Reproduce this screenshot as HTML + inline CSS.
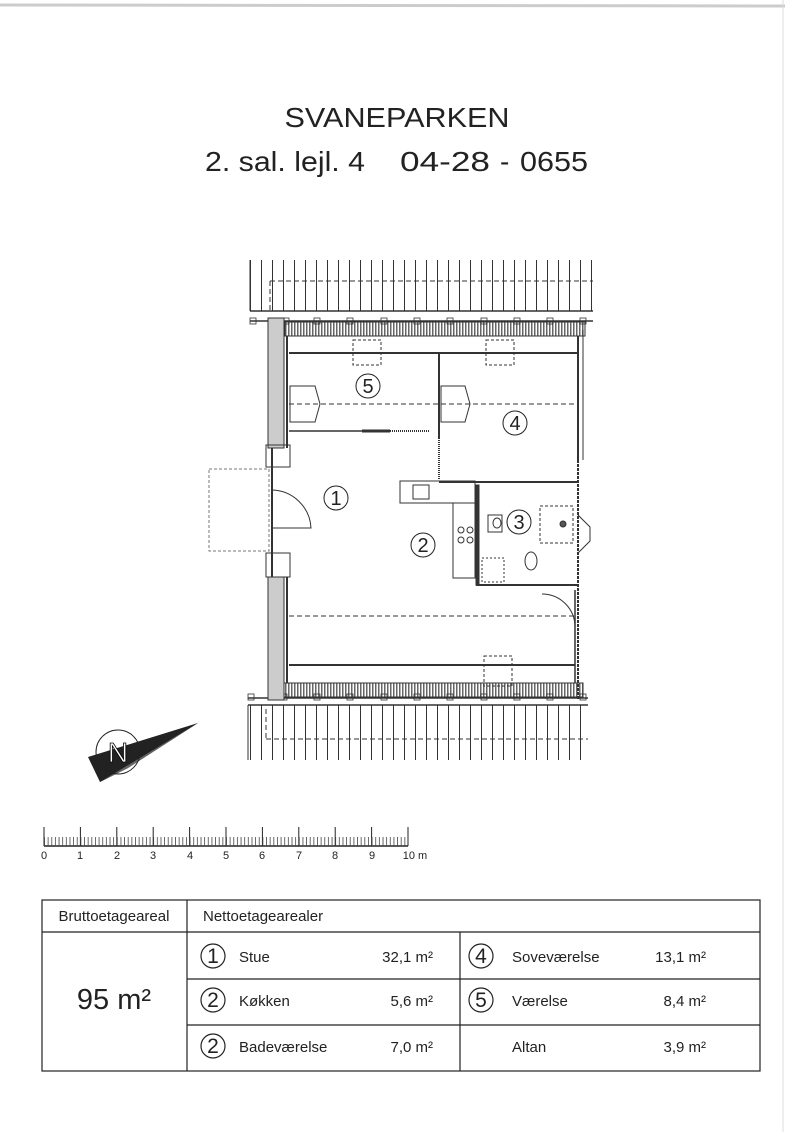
<!DOCTYPE html>
<html><head><meta charset="utf-8"><style>
body{margin:0;background:#fff;}
svg{display:block;font-family:"Liberation Sans",Arial,sans-serif;}
</style></head><body>
<svg width="800" height="1132" viewBox="0 0 800 1132" xmlns="http://www.w3.org/2000/svg">
<defs>
<pattern id="roof" x="250" y="0" width="11" height="10" patternUnits="userSpaceOnUse"><line x1="0.5" y1="0" x2="0.5" y2="10" stroke="#333" stroke-width="1"/></pattern>
<pattern id="hatch" x="0" y="0" width="3" height="3" patternUnits="userSpaceOnUse"><rect width="3" height="3" fill="#fff"/><rect width="1.5" height="3" fill="#666"/></pattern>
</defs>
<rect width="800" height="1132" fill="#fff"/>
<line x1="0" y1="5" x2="785" y2="6" stroke="#ccc" stroke-width="3"/>
<line x1="783" y1="0" x2="783" y2="1132" stroke="#ddd" stroke-width="1"/>
<g font-size="28" fill="#222">
<text x="397" y="127" text-anchor="middle" textLength="225" lengthAdjust="spacingAndGlyphs">SVANEPARKEN</text>
<text x="205" y="171" textLength="160" lengthAdjust="spacingAndGlyphs">2. sal. lejl. 4</text>
<text x="400" y="171" textLength="90" lengthAdjust="spacingAndGlyphs">04-28</text>
<text x="500" y="171">-</text>
<text x="520" y="171" textLength="68" lengthAdjust="spacingAndGlyphs">0655</text>
</g>

<g stroke="#333" fill="none" stroke-width="1">
<rect x="250" y="260" width="343" height="51" fill="url(#roof)" stroke="none"/>
<line x1="250" y1="260" x2="250" y2="311"/><line x1="250" y1="311" x2="593" y2="311" stroke-width="1.5"/>
<line x1="270" y1="281" x2="593" y2="281" stroke-dasharray="5,3"/>
<line x1="270" y1="281" x2="270" y2="311" stroke-dasharray="5,3"/>
<rect x="248" y="705" width="340" height="55" fill="url(#roof)" stroke="none"/>
<line x1="248" y1="705" x2="588" y2="705" stroke-width="1.5"/><line x1="248" y1="705" x2="248" y2="760"/>
<line x1="266" y1="739" x2="588" y2="739" stroke-dasharray="5,3"/>
<line x1="266" y1="709" x2="266" y2="739" stroke-dasharray="5,3"/>
<rect x="285" y="322" width="300" height="14" fill="url(#hatch)" stroke="#333"/>
<rect x="283" y="683" width="300" height="14" fill="url(#hatch)" stroke="#333"/>
<line x1="250" y1="321" x2="593" y2="321" stroke-width="1.5"/>
<line x1="248" y1="698" x2="588" y2="698" stroke-width="1.5"/>
<g stroke-width="0.8">
<rect x="250" y="318" width="6" height="6"/><rect x="283" y="318" width="6" height="6"/><rect x="314" y="318" width="6" height="6"/><rect x="347" y="318" width="6" height="6"/><rect x="381" y="318" width="6" height="6"/><rect x="414" y="318" width="6" height="6"/><rect x="447" y="318" width="6" height="6"/><rect x="481" y="318" width="6" height="6"/><rect x="514" y="318" width="6" height="6"/><rect x="547" y="318" width="6" height="6"/><rect x="580" y="318" width="6" height="6"/>
<rect x="248" y="694" width="6" height="6"/><rect x="281" y="694" width="6" height="6"/><rect x="314" y="694" width="6" height="6"/><rect x="347" y="694" width="6" height="6"/><rect x="381" y="694" width="6" height="6"/><rect x="414" y="694" width="6" height="6"/><rect x="447" y="694" width="6" height="6"/><rect x="481" y="694" width="6" height="6"/><rect x="514" y="694" width="6" height="6"/><rect x="547" y="694" width="6" height="6"/><rect x="580" y="694" width="6" height="6"/>
</g>
<rect x="268" y="318" width="16" height="130" fill="#ccc"/>
<rect x="268" y="577" width="16" height="123" fill="#ccc"/>
<line x1="287" y1="336" x2="287" y2="448" stroke-width="2"/>
<line x1="287" y1="577" x2="287" y2="683" stroke-width="2"/>
<rect x="266" y="445" width="24" height="22"/><rect x="266" y="553" width="24" height="24"/>
<line x1="272" y1="448" x2="272" y2="577" stroke-width="2"/>
<rect x="209" y="469" width="60" height="82" stroke-dasharray="3,2" stroke="#777"/>
<path d="M272 490 A40 40 0 0 1 311 528 L272 528"/>
<line x1="578" y1="336" x2="578" y2="460" stroke-width="2"/>
<line x1="583" y1="330" x2="583" y2="460"/>
<line x1="578" y1="460" x2="578" y2="700" stroke-width="2" stroke-dasharray="3,1"/>
<line x1="575" y1="590" x2="575" y2="683" stroke-width="1.5"/>
<path d="M578 515 l12 12 v14 l-12 12"/>
<line x1="289" y1="353" x2="578" y2="353" stroke-width="2"/>
<rect x="353" y="340" width="28" height="25" stroke-dasharray="3,2"/>
<rect x="486" y="340" width="28" height="25" stroke-dasharray="3,2"/>
<line x1="289" y1="404" x2="578" y2="404" stroke-dasharray="5,3"/>
<line x1="289" y1="431" x2="390" y2="431" stroke-width="1.5"/>
<line x1="362" y1="431" x2="390" y2="431" stroke-width="3"/>
<line x1="390" y1="431" x2="430" y2="431" stroke-dasharray="1,1" stroke-width="2"/>
<line x1="439" y1="353" x2="439" y2="438" stroke-width="2"/>
<line x1="439" y1="438" x2="439" y2="480" stroke-dasharray="1,1" stroke-width="2"/>
<path d="M290 386 h25 l5 18 l-5 18 h-25 z"/>
<path d="M441 386 h24 l5 18 l-5 18 h-24 z"/>
<line x1="439" y1="482" x2="578" y2="482" stroke-width="2"/>
<rect x="400" y="481" width="75" height="22"/>
<rect x="413" y="485" width="16" height="14"/>
<rect x="476" y="485" width="3" height="100" fill="#333"/>
<line x1="476" y1="585" x2="578" y2="585" stroke-width="2"/>
<rect x="453" y="503" width="22" height="75"/>
<circle cx="461" cy="530" r="3"/><circle cx="470" cy="530" r="3"/><circle cx="461" cy="540" r="3"/><circle cx="470" cy="540" r="3"/>
<rect x="488" y="515" width="14" height="17"/><ellipse cx="497" cy="523" rx="4" ry="5"/>
<rect x="540" y="506" width="33" height="37" stroke-dasharray="3,2"/>
<circle cx="563" cy="524" r="3" fill="#555"/>
<rect x="482" y="558" width="22" height="24" stroke-dasharray="2,2"/>
<ellipse cx="531" cy="561" rx="6" ry="9"/>
<path d="M542 594 A33 33 0 0 1 575 627"/>
<line x1="289" y1="616" x2="575" y2="616" stroke-dasharray="5,3"/>
<line x1="289" y1="665" x2="575" y2="665" stroke-width="2"/>
<rect x="484" y="656" width="28" height="30" stroke-dasharray="3,2"/>
</g>
<g font-size="20" fill="#222" text-anchor="middle">
<circle cx="368" cy="386" r="12" fill="none" stroke="#222"/><text x="368" y="393">5</text>
<circle cx="515" cy="423" r="12" fill="none" stroke="#222"/><text x="515" y="430">4</text>
<circle cx="336" cy="498" r="12" fill="none" stroke="#222"/><text x="336" y="505">1</text>
<circle cx="423" cy="545" r="12" fill="none" stroke="#222"/><text x="423" y="552">2</text>
<circle cx="519" cy="522" r="12" fill="none" stroke="#222"/><text x="519" y="529">3</text>
</g>
<polygon points="88,757 198,723 128,768 100,782" fill="#222"/>
<polygon points="128,768 198,723 100,782" fill="#666"/>
<circle cx="118" cy="752" r="22" fill="none" stroke="#222"/>
<text x="118" y="762" font-size="28" fill="#fff" text-anchor="middle" stroke="#000" stroke-width="0.8">N</text>
<g stroke="#222" stroke-width="1">
<line x1="44" y1="846" x2="408" y2="846" stroke-width="1.5"/>
<line x1="44" y1="827" x2="44" y2="846"/><line x1="80.4" y1="827" x2="80.4" y2="846"/><line x1="116.8" y1="827" x2="116.8" y2="846"/><line x1="153.2" y1="827" x2="153.2" y2="846"/><line x1="189.6" y1="827" x2="189.6" y2="846"/><line x1="226" y1="827" x2="226" y2="846"/><line x1="262.4" y1="827" x2="262.4" y2="846"/><line x1="298.8" y1="827" x2="298.8" y2="846"/><line x1="335.2" y1="827" x2="335.2" y2="846"/><line x1="371.6" y1="827" x2="371.6" y2="846"/><line x1="408" y1="827" x2="408" y2="846"/>
</g>
<svg x="44" y="835" width="364" height="11" overflow="visible"><defs><pattern id="tk" width="3.64" height="11" patternUnits="userSpaceOnUse"><line x1="0.5" y1="2" x2="0.5" y2="11" stroke="#444" stroke-width="0.8"/></pattern></defs><rect width="364" height="11" fill="url(#tk)"/></svg>
<g font-size="11" fill="#222" text-anchor="middle">
<text x="44" y="859">0</text><text x="80" y="859">1</text><text x="117" y="859">2</text><text x="153" y="859">3</text><text x="190" y="859">4</text><text x="226" y="859">5</text><text x="262" y="859">6</text><text x="299" y="859">7</text><text x="335" y="859">8</text><text x="372" y="859">9</text><text x="415" y="859">10 m</text>
</g>
<g stroke="#222" stroke-width="1.2" fill="none">
<rect x="42" y="900" width="718" height="171"/>
<line x1="42" y1="932" x2="760" y2="932"/>
<line x1="187" y1="900" x2="187" y2="1071"/>
<line x1="460" y1="932" x2="460" y2="1071"/>
<line x1="187" y1="979" x2="760" y2="979"/>
<line x1="187" y1="1025" x2="760" y2="1025"/>
<circle cx="213" cy="956" r="12"/><circle cx="213" cy="1000" r="12"/><circle cx="213" cy="1046" r="12"/>
<circle cx="481" cy="956" r="12"/><circle cx="481" cy="1000" r="12"/>
</g>
<g font-size="15" fill="#222">
<text x="114" y="921" text-anchor="middle">Bruttoetageareal</text>
<text x="203" y="921">Nettoetagearealer</text>
<text x="114" y="1009" font-size="29" text-anchor="middle">95 m²</text>
<g font-size="21" text-anchor="middle"><text x="213" y="963">1</text><text x="213" y="1007">2</text><text x="213" y="1053">2</text><text x="481" y="963">4</text><text x="481" y="1007">5</text></g>
<text x="239" y="962">Stue</text><text x="433" y="962" text-anchor="end">32,1 m²</text>
<text x="239" y="1006">Køkken</text><text x="433" y="1006" text-anchor="end">5,6 m²</text>
<text x="239" y="1052">Badeværelse</text><text x="433" y="1052" text-anchor="end">7,0 m²</text>
<text x="512" y="962">Soveværelse</text><text x="706" y="962" text-anchor="end">13,1 m²</text>
<text x="512" y="1006">Værelse</text><text x="706" y="1006" text-anchor="end">8,4 m²</text>
<text x="512" y="1052">Altan</text><text x="706" y="1052" text-anchor="end">3,9 m²</text>
</g>
</svg>
</body></html>
